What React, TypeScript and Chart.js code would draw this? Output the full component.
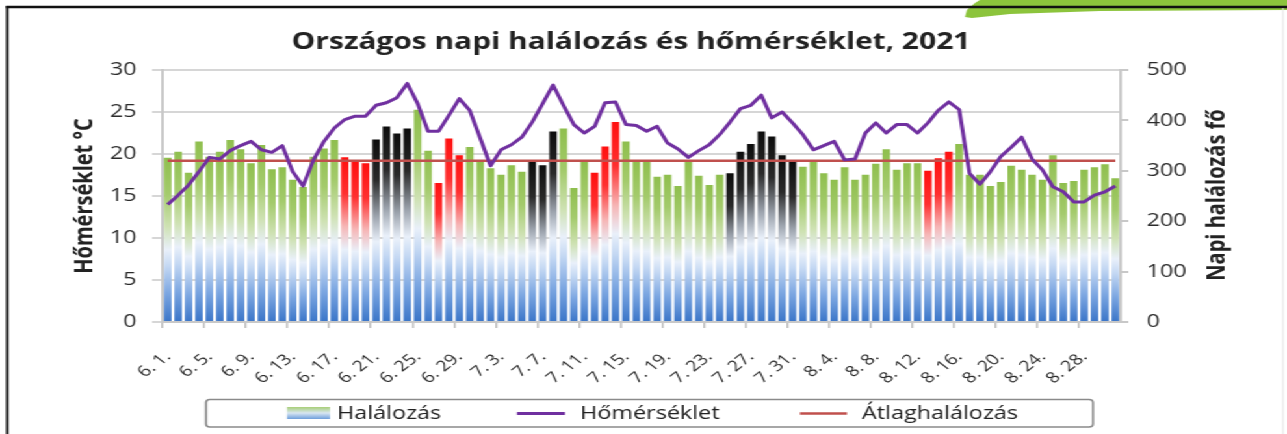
import React, { useEffect, useRef } from 'react';
import { Chart, registerables } from 'chart.js';

Chart.register(...registerables);

// ---------- data ----------
const dayLabels = [
  '6. 1.', '6. 2.', '6. 3.', '6. 4.', '6. 5.', '6. 6.', '6. 7.', '6. 8.', '6. 9.', '6. 10.',
  '6. 11.', '6. 12.', '6. 13.', '6. 14.', '6. 15.', '6. 16.', '6. 17.', '6. 18.', '6. 19.', '6. 20.',
  '6. 21.', '6. 22.', '6. 23.', '6. 24.', '6. 25.', '6. 26.', '6. 27.', '6. 28.', '6. 29.', '6. 30.',
  '7. 1.', '7. 2.', '7. 3.', '7. 4.', '7. 5.', '7. 6.', '7. 7.', '7. 8.', '7. 9.', '7. 10.',
  '7. 11.', '7. 12.', '7. 13.', '7. 14.', '7. 15.', '7. 16.', '7. 17.', '7. 18.', '7. 19.', '7. 20.',
  '7. 21.', '7. 22.', '7. 23.', '7. 24.', '7. 25.', '7. 26.', '7. 27.', '7. 28.', '7. 29.', '7. 30.',
  '7. 31.', '8. 1.', '8. 2.', '8. 3.', '8. 4.', '8. 5.', '8. 6.', '8. 7.', '8. 8.', '8. 9.',
  '8. 10.', '8. 11.', '8. 12.', '8. 13.', '8. 14.', '8. 15.', '8. 16.', '8. 17.', '8. 18.', '8. 19.',
  '8. 20.', '8. 21.', '8. 22.', '8. 23.', '8. 24.', '8. 25.', '8. 26.', '8. 27.', '8. 28.', '8. 29.',
  '8. 30.', '8. 31.',
];

// Napi halálozás (fő) – right axis
const deaths = [
  326, 338, 296, 358, 328, 338, 361, 343, 315, 351,
  303, 307, 282, 268, 328, 344, 361, 327, 318, 315,
  362, 388, 374, 384, 421, 340, 276, 364, 331, 347,
  321, 305, 292, 311, 298, 318, 311, 378, 384, 266,
  318, 296, 348, 397, 358, 320, 318, 288, 292, 270,
  318, 290, 272, 292, 295, 338, 353, 378, 368, 331,
  318, 308, 318, 295, 282, 307, 282, 292, 314, 343,
  302, 315, 315, 300, 325, 338, 353, 292, 292, 270,
  278, 310, 302, 292, 282, 331, 276, 280, 302, 307,
  313, 285,
];

// Hőmérséklet (°C) – left axis
const temperatures = [
  14.0, 15.1, 16.3, 17.9, 19.6, 19.4, 20.4, 21.0, 21.5, 20.5,
  20.2, 21.0, 17.9, 16.2, 19.3, 21.5, 23.1, 24.1, 24.5, 24.5,
  25.8, 26.1, 26.7, 28.4, 26.0, 22.7, 22.7, 24.6, 26.6, 25.2,
  21.9, 18.6, 20.5, 21.1, 22.0, 23.8, 26.0, 28.2, 25.8, 23.5,
  22.5, 23.3, 26.1, 26.2, 23.5, 23.4, 22.7, 23.3, 21.3, 20.6,
  19.6, 20.4, 21.1, 22.3, 23.8, 25.4, 25.8, 27.0, 24.3, 25.0,
  23.7, 22.3, 20.5, 21.0, 21.5, 19.3, 19.4, 22.5, 23.7, 22.5,
  23.5, 23.5, 22.5, 23.7, 25.2, 26.2, 25.3, 17.7, 16.4, 17.9,
  19.7, 20.8, 22.0, 19.4, 18.1, 16.1, 15.5, 14.3, 14.3, 15.1,
  15.5, 16.2,
];

// bar top colour: g = green, r = red, k = black
const barKinds = [
  'g', 'g', 'g', 'g', 'g', 'g', 'g', 'g', 'g', 'g',
  'g', 'g', 'g', 'g', 'g', 'g', 'g', 'r', 'r', 'r',
  'k', 'k', 'k', 'k', 'g', 'g', 'r', 'r', 'r', 'g',
  'g', 'g', 'g', 'g', 'g', 'k', 'k', 'k', 'g', 'g',
  'g', 'r', 'r', 'r', 'g', 'g', 'g', 'g', 'g', 'g',
  'g', 'g', 'g', 'g', 'k', 'k', 'k', 'k', 'k', 'k',
  'k', 'g', 'g', 'g', 'g', 'g', 'g', 'g', 'g', 'g',
  'g', 'g', 'g', 'r', 'r', 'r', 'g', 'g', 'g', 'g',
  'g', 'g', 'g', 'g', 'g', 'g', 'g', 'g', 'g', 'g',
  'g', 'g',
];

const averageDeaths = 320;

const chartTitle = 'Országos napi halálozás és hőmérséklet, 2021';
const leftAxisTitle = 'Hőmérséklet °C';
const rightAxisTitle = 'Napi halálozás fő';
const legendLabels = ['Halálozás', 'Hőmérséklet', 'Átlaghalálozás'];

// ---------- styling ----------
const SX = 1.3; // the reference is horizontally stretched
const W = 990;
const H = 434;
const FONT = "'Open Sans', 'DejaVu Sans', sans-serif";
const TEXT = '#222222';
const TICK = '#2b2b2b';
const PURPLE = '#7030a0';
const RED_LINE = '#c0504d';

const BLUE_TAIL: [number, string][] = [
  [0.56, '#e9f0fa'],
  [0.66, '#c4d8f3'],
  [0.82, '#7ea8e2'],
  [1, '#3a75c8'],
];
const gradientStops: Record<string, [number, string][]> = {
  g: [[0, '#8fbf4e'], [0.22, '#a4cb6c'], [0.42, '#cfe2b4'], ...BLUE_TAIL],
  r: [[0, '#ff1010'], [0.22, '#ff3030'], [0.42, '#f6b6b6'], ...BLUE_TAIL],
  k: [[0, '#0d0d0d'], [0.22, '#2a2a2a'], [0.42, '#9ca3ad'], ...BLUE_TAIL],
};

function barFill(c: any) {
  const chart = c.chart;
  const { ctx, chartArea, scales } = chart;
  const kind = barKinds[c.dataIndex] || 'g';
  if (!chartArea || c.type !== 'data' || !scales.y1) return '#9bbb59';
  const top = scales.y1.getPixelForValue(c.raw as number);
  const bottom = scales.y1.getPixelForValue(0);
  const g = ctx.createLinearGradient(0, top, 0, bottom);
  gradientStops[kind].forEach(([o, col]) => g.addColorStop(o, col));
  return g;
}

const decorPlugin = {
  id: 'decor',
  beforeDraw(chart: any) {
    const ctx = chart.ctx as CanvasRenderingContext2D;
    ctx.save();
    ctx.fillStyle = '#ffffff';
    ctx.fillRect(0, 0, W, H);
    ctx.restore();
  },
  afterDraw(chart: any) {
    const ctx = chart.ctx as CanvasRenderingContext2D;
    ctx.save();
    // green decoration top right
    const pts: [number, number][] = [
      [980, 0], [1287, 0], [1287, 10], [1100, 11], [1010, 14], [972, 18], [965, 17], [967, 10], [975, 3],
    ];
    ctx.fillStyle = '#8cc43c';
    ctx.beginPath();
    pts.forEach(([x, y], i) => (i ? ctx.lineTo(x / SX, y) : ctx.moveTo(x / SX, y)));
    ctx.closePath();
    ctx.fill();
    // frame
    ctx.strokeStyle = '#111111';
    ctx.lineWidth = 2.4;
    ctx.beginPath();
    ctx.moveTo(4.5, 7);
    ctx.lineTo(W, 7);
    ctx.stroke();
    ctx.lineWidth = 2;
    ctx.beginPath();
    ctx.moveTo(5.5, 6);
    ctx.lineTo(5.5, H);
    ctx.stroke();
    ctx.strokeStyle = '#e4e4e4';
    ctx.lineWidth = 1;
    ctx.beginPath();
    ctx.moveTo(1283 / SX, 8);
    ctx.lineTo(1283 / SX, H);
    ctx.stroke();

    // title
    ctx.fillStyle = TEXT;
    ctx.font = `bold 23px ${FONT}`;
    ctx.textAlign = 'center';
    ctx.textBaseline = 'middle';
    ctx.fillText(chartTitle, 631 / SX, 42);

    // axis titles (both read bottom to top)
    ctx.font = `bold 20px ${FONT}`;
    ctx.save();
    ctx.translate(85 / SX, 196);
    ctx.rotate(-Math.PI / 2);
    ctx.fillText(leftAxisTitle, 0, 0);
    ctx.restore();
    ctx.save();
    ctx.translate(1217 / SX, 195);
    ctx.rotate(-Math.PI / 2);
    ctx.fillText(rightAxisTitle, 0, 0);
    ctx.restore();

    // legend
    const bx = 206 / SX;
    const bw = (1093 - 206) / SX;
    const by = 399.5;
    const bh = 27.5;
    ctx.strokeStyle = '#8a8a8a';
    ctx.lineWidth = 1.6;
    ctx.beginPath();
    (ctx as any).roundRect(bx, by, bw, bh, 3);
    ctx.stroke();

    const cy = 413.5;
    // bar swatch
    const sx0 = 287 / SX;
    const sw = (330 - 287) / SX;
    const sg = ctx.createLinearGradient(0, 407, 0, 419);
    sg.addColorStop(0, '#a9cf78');
    sg.addColorStop(0.5, '#d8e6f2');
    sg.addColorStop(1, '#6f9fdc');
    ctx.fillStyle = sg;
    ctx.fillRect(sx0, 407, sw, 12);
    // line swatches
    ctx.lineWidth = 3;
    ctx.strokeStyle = PURPLE;
    ctx.beginPath();
    ctx.moveTo(517 / SX, cy);
    ctx.lineTo(565 / SX, cy);
    ctx.stroke();
    ctx.lineWidth = 2.5;
    ctx.strokeStyle = RED_LINE;
    ctx.beginPath();
    ctx.moveTo(800 / SX, cy);
    ctx.lineTo(847 / SX, cy);
    ctx.stroke();

    ctx.fillStyle = TEXT;
    ctx.font = `18px ${FONT}`;
    ctx.textAlign = 'left';
    ctx.textBaseline = 'middle';
    ctx.fillText(legendLabels[0], 337 / SX, cy);
    ctx.fillText(legendLabels[1], 580 / SX, cy);
    ctx.fillText(legendLabels[2], 862 / SX, cy);
    ctx.restore();
  },
};

export default function App() {
  const canvasRef = useRef<HTMLCanvasElement | null>(null);

  useEffect(() => {
    document.body.style.margin = '0';
    document.body.style.overflow = 'hidden';
    const canvas = canvasRef.current;
    if (!canvas) return;
    const avgLine = deaths.map(() => averageDeaths);

    const chart = new Chart(canvas, {
      type: 'bar',
      data: {
        labels: dayLabels,
        datasets: [
          {
            type: 'line',
            label: legendLabels[1],
            data: temperatures,
            yAxisID: 'y',
            borderColor: PURPLE,
            backgroundColor: PURPLE,
            borderWidth: 3,
            pointRadius: 0,
            tension: 0,
            borderJoinStyle: 'round',
            order: 1,
          } as any,
          {
            type: 'line',
            label: legendLabels[2],
            data: avgLine,
            yAxisID: 'y1',
            borderColor: RED_LINE,
            backgroundColor: RED_LINE,
            borderWidth: 2.5,
            pointRadius: 0,
            order: 2,
          } as any,
          {
            type: 'bar',
            label: legendLabels[0],
            data: deaths,
            yAxisID: 'y1',
            backgroundColor: barFill,
            borderWidth: 0,
            barPercentage: 0.72,
            categoryPercentage: 1,
            order: 3,
          } as any,
        ],
      },
      options: {
        responsive: true,
        maintainAspectRatio: false,
        animation: false,
        layout: { padding: { top: 70, left: 0, right: 0, bottom: 0 } },
        plugins: {
          legend: { display: false },
          title: { display: false },
          tooltip: { enabled: false },
        },
        scales: {
          x: {
            offset: true,
            grid: {
              offset: true,
              drawOnChartArea: false,
              drawTicks: true,
              tickLength: 6,
              lineWidth: 1.5,
              color: (c: any) => (c.index % 4 === 0 ? '#bfbfbf' : 'rgba(0,0,0,0)'),
            },
            border: { display: true, color: '#c8c8c8', width: 2 },
            ticks: {
              autoSkip: false,
              maxRotation: 45,
              minRotation: 45,
              padding: 20,
              color: TICK,
              font: { family: FONT, size: 15 },
              callback: (_v: any, i: number) => (i % 4 === 0 ? dayLabels[i] : ''),
            },
            afterFit: (s: any) => {
              s.height = H - 322;
            },
          },
          y: {
            position: 'left',
            min: 0,
            max: 30,
            ticks: { stepSize: 5, padding: 12, color: TICK, font: { family: FONT, size: 18 } },
            grid: { color: '#d6d6d6', lineWidth: 2, tickLength: 8, drawTicks: true },
            border: { display: true, color: '#c8c8c8', width: 2 },
            afterFit: (s: any) => {
              s.width = 125;
            },
          },
          y1: {
            position: 'right',
            min: 0,
            max: 500,
            ticks: { stepSize: 100, padding: 14, color: TICK, font: { family: FONT, size: 18 } },
            grid: { drawOnChartArea: false, tickLength: 6, color: '#c8c8c8', lineWidth: 2 },
            border: { display: true, color: '#c8c8c8', width: 2 },
            afterFit: (s: any) => {
              s.width = 128;
            },
          },
        },
      },
      plugins: [decorPlugin],
    });

    return () => {
      chart.destroy();
    };
  }, []);

  return (
    <div
      style={{
        position: 'absolute',
        left: 0,
        top: 0,
        width: W,
        height: H,
        transform: `scaleX(${SX})`,
        transformOrigin: '0 0',
        background: '#fff',
      }}
    >
      <canvas ref={canvasRef} />
    </div>
  );
}
